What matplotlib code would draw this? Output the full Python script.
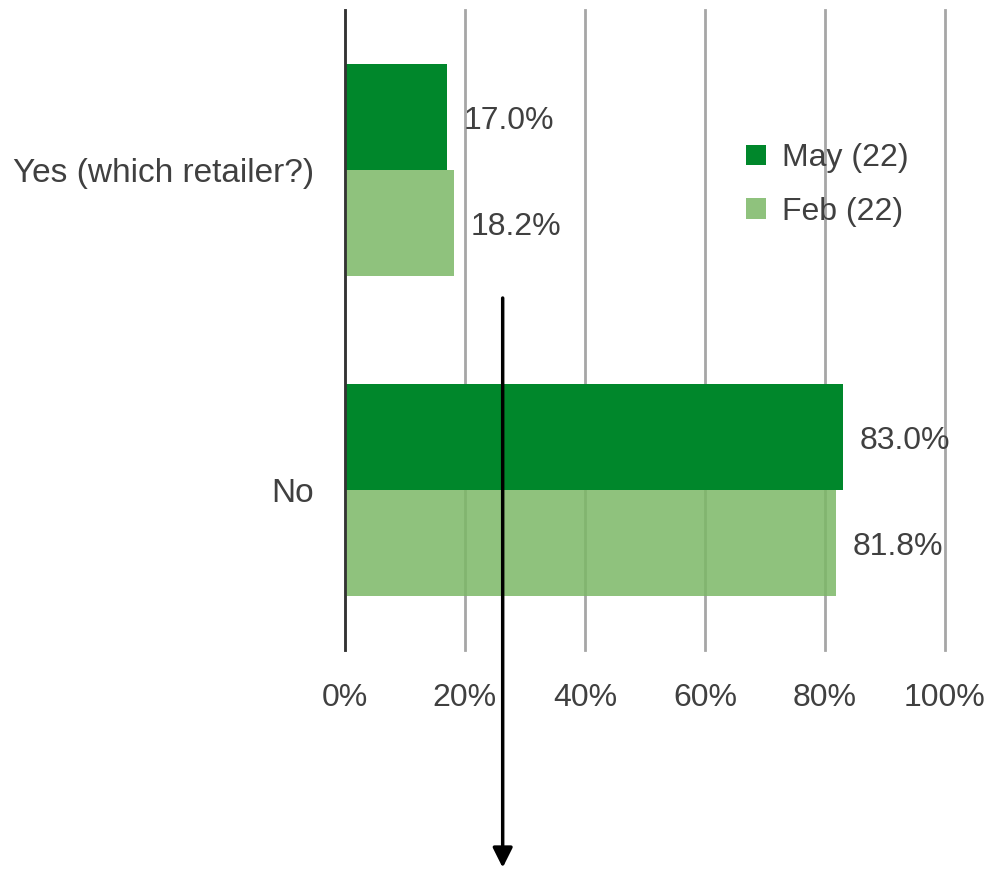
import matplotlib
matplotlib.use("Agg")
import matplotlib.pyplot as plt
import numpy as np

plt.rcParams['font.family'] = ['Liberation Sans', 'DejaVu Sans']

# данные
categories = ["No", "Yes (which retailer?)"]
series_names = ["May (22)", "Feb (22)"]
may_values = [83.0, 17.0]
feb_values = [81.8, 18.2]
x_ticks = [0, 20, 40, 60, 80, 100]

dark_green = "#00872b"
light_green = "#7cb866"
text_color = "#404040"
fs = 23

fig = plt.figure(figsize=(9.91, 8.71), dpi=100)
ax = fig.add_axes([0.348, 0.2537, 0.6055, 0.7348])

y = np.array([0.5, 1.5])
h = 0.33
ax.barh(y + h / 2, may_values, height=h, color=dark_green, label=series_names[0], zorder=2)
ax.barh(y - h / 2, feb_values, height=h, color=light_green, alpha=0.85,
        label=series_names[1], zorder=2)

# подписи значений
for yi, v in zip(y + h / 2, may_values):
    ax.annotate(f"{v:.1f}%", (v, yi), xytext=(12, -3), textcoords="offset points",
                va="center", ha="left", fontsize=fs, color=text_color)
for yi, v in zip(y - h / 2, feb_values):
    ax.annotate(f"{v:.1f}%", (v, yi), xytext=(12, -3), textcoords="offset points",
                va="center", ha="left", fontsize=fs, color=text_color)

ax.set_xlim(0, 100)
ax.set_ylim(0, 2)
ax.set_xticks(x_ticks)
ax.set_xticklabels([f"{t}%" for t in x_ticks])
ax.set_yticks(y)
ax.set_yticklabels(categories, fontsize=24)
ax.tick_params(axis="x", length=0, pad=24, labelsize=fs, labelcolor=text_color)
ax.tick_params(axis="y", length=0, pad=22, labelcolor=text_color)

ax.grid(True, axis="x", color="#a6a6a6", linewidth=2, zorder=0)
for gl in ax.get_xgridlines():
    gl.set_clip_on(False)
ax.set_axisbelow(True)
for s in ["top", "right", "bottom"]:
    ax.spines[s].set_visible(False)
ax.spines["left"].set_color("#333333")
ax.spines["left"].set_linewidth(2)
ax.spines["left"].set_zorder(3)

leg = ax.legend(loc="upper left", bbox_to_anchor=(0.648, 0.812), frameon=False,
                fontsize=fs, handlelength=0.62, handleheight=0.62, handletextpad=0.5,
                labelspacing=0.75, labelcolor=text_color, borderaxespad=0)

# стрелка
ax.annotate("", xy=(26.3, -0.68), xytext=(26.3, 1.1),
            arrowprops=dict(arrowstyle="-|>", color="black", lw=2.5,
                            mutation_scale=30, shrinkA=0, shrinkB=0),
            annotation_clip=False, zorder=5)

fig.savefig("out.png", dpi=100)
